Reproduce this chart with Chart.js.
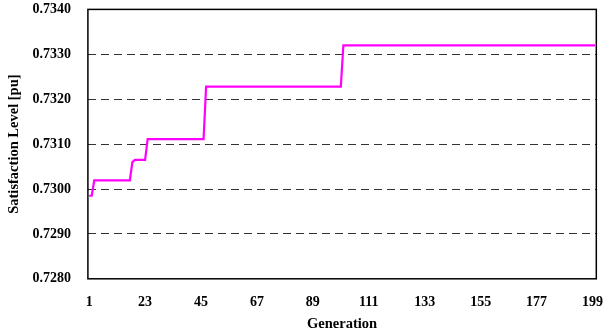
<!DOCTYPE html>
<html>
<head>
<meta charset="utf-8">
<script src="https://cdn.jsdelivr.net/npm/chart.js@4.4.0/dist/chart.umd.min.js"></script>
<style>
  html, body { margin: 0; padding: 0; background: #fff; }
  #wrap { width: 603px; height: 334px; }
</style>
</head>
<body>
<div id="wrap"><canvas id="chart"></canvas></div>
<script>
// best satisfaction level per generation (1..200)
const satisfaction = [
  0.72985,0.72985,0.73019,0.73019,0.73019,0.73019,0.73019,0.73019,0.73019,0.73019,
  0.73019,0.73019,0.73019,0.73019,0.73019,0.73019,0.73019,0.73060,0.73065,0.73065,
  0.73065,0.73065,0.73065,0.73111,0.73111,0.73111,0.73111,0.73111,0.73111,0.73111,
  0.73111,0.73111,0.73111,0.73111,0.73111,0.73111,0.73111,0.73111,0.73111,0.73111,
  0.73111,0.73111,0.73111,0.73111,0.73111,0.73111,0.73228,0.73228,0.73228,0.73228,
  0.73228,0.73228,0.73228,0.73228,0.73228,0.73228,0.73228,0.73228,0.73228,0.73228,
  0.73228,0.73228,0.73228,0.73228,0.73228,0.73228,0.73228,0.73228,0.73228,0.73228,
  0.73228,0.73228,0.73228,0.73228,0.73228,0.73228,0.73228,0.73228,0.73228,0.73228,
  0.73228,0.73228,0.73228,0.73228,0.73228,0.73228,0.73228,0.73228,0.73228,0.73228,
  0.73228,0.73228,0.73228,0.73228,0.73228,0.73228,0.73228,0.73228,0.73228,0.73228,
  0.73320,0.73320,0.73320,0.73320,0.73320,0.73320,0.73320,0.73320,0.73320,0.73320,
  0.73320,0.73320,0.73320,0.73320,0.73320,0.73320,0.73320,0.73320,0.73320,0.73320,
  0.73320,0.73320,0.73320,0.73320,0.73320,0.73320,0.73320,0.73320,0.73320,0.73320,
  0.73320,0.73320,0.73320,0.73320,0.73320,0.73320,0.73320,0.73320,0.73320,0.73320,
  0.73320,0.73320,0.73320,0.73320,0.73320,0.73320,0.73320,0.73320,0.73320,0.73320,
  0.73320,0.73320,0.73320,0.73320,0.73320,0.73320,0.73320,0.73320,0.73320,0.73320,
  0.73320,0.73320,0.73320,0.73320,0.73320,0.73320,0.73320,0.73320,0.73320,0.73320,
  0.73320,0.73320,0.73320,0.73320,0.73320,0.73320,0.73320,0.73320,0.73320,0.73320,
  0.73320,0.73320,0.73320,0.73320,0.73320,0.73320,0.73320,0.73320,0.73320,0.73320,
  0.73320,0.73320,0.73320,0.73320,0.73320,0.73320,0.73320,0.73320,0.73320,0.73320
];
const generations = satisfaction.map((v, i) => String(i + 1));
const xTickLabels = ["1", "23", "45", "67", "89", "111", "133", "155", "177", "199"];
const yMin = 0.7280, yMax = 0.7340, yStep = 0.0010;

const family = "'Liberation Serif', 'Times New Roman', serif";
const tickFont = { family: family, weight: "bold", size: 14 };
const titleFont = { family: family, weight: "bold", size: 14.5 };
const clear = "rgba(0,0,0,0)";

// solid black frame around the plot area
const frame = {
  id: "frame",
  afterDatasetsDraw(chart) {
    const { ctx, chartArea: a } = chart;
    ctx.save();
    ctx.strokeStyle = "#000";
    ctx.lineWidth = 1.5;
    ctx.strokeRect(a.left, a.top, a.right - a.left, a.bottom - a.top);
    ctx.restore();
  }
};

new Chart(document.getElementById("chart"), {
  type: "line",
  data: {
    labels: generations,
    datasets: [{
      data: satisfaction,
      borderColor: "#ff00ff",
      borderWidth: 2.2,
      pointRadius: 0,
      tension: 0,
      fill: false
    }]
  },
  options: {
    responsive: true,
    maintainAspectRatio: false,
    animation: false,
    layout: { padding: { left: 6, right: 1, top: 0, bottom: 1 } },
    plugins: { legend: { display: false }, tooltip: { enabled: false } },
    scales: {
      x: {
        offset: true,
        grid: { drawOnChartArea: false, color: clear, tickColor: clear, drawTicks: true, tickLength: 15 },
        border: { display: false },
        ticks: {
          autoSkip: false,
          maxRotation: 0,
          padding: 0,
          color: "#000",
          font: tickFont,
          callback: function (val) {
            const lab = this.getLabelForValue(val);
            return xTickLabels.includes(lab) ? lab : null;
          }
        },
        title: { display: true, text: "Generation", color: "#000", padding: { top: 5, bottom: 0 }, font: titleFont }
      },
      y: {
        min: yMin,
        max: yMax,
        grid: {
          color: (c) => (c.tick && (c.tick.value <= yMin + 1e-9 || c.tick.value >= yMax - 1e-9)) ? clear : "#333",
          tickColor: clear,
          drawTicks: true,
          tickLength: 16,
          lineWidth: 1
        },
        border: { display: false, dash: [8, 5] },
        ticks: {
          stepSize: yStep,
          padding: 1,
          color: "#000",
          font: tickFont,
          callback: (v) => v.toFixed(4)
        },
        title: { display: true, text: "Satisfaction Level [pu]", color: "#000", padding: { top: 0, bottom: 8 }, font: titleFont }
      }
    }
  },
  plugins: [frame]
});
</script>
</body>
</html>
